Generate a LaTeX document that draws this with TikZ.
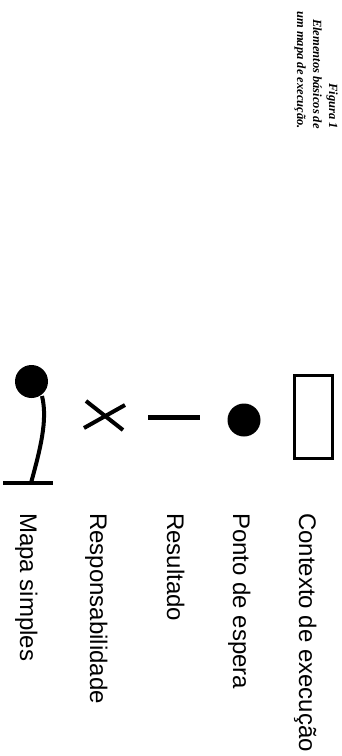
\documentclass[tikz,border=0pt]{standalone}
\usepackage{fontspec}
\setmainfont{Liberation Sans}
\newfontfamily\capfont{Liberation Serif}
\begin{document}
\begin{tikzpicture}[x=1pt,y=-1pt,
  lbl/.style={rotate=-90, anchor=base west, inner sep=0pt, font=\fontsize{24}{28}\selectfont},
  capt/.style={rotate=-90, anchor=north east, align=right, inner sep=0pt,
    font=\capfont\bfseries\itshape\fontsize{12.5}{16}\selectfont},
  stroke/.style={line width=4pt, draw=black}]
\useasboundingbox[fill=white] (0,0) rectangle (342,756);
% caption
\node[capt] (cap) at (338,129) {Figura 1\\Elementos básicos de\\um mapa de execução.};
% symbols
\fill[black] (31.5,381.5) circle[radius=16.5];
\coordinate (mtop) at (42,396);
\coordinate (mbot) at (31,483);
\draw[stroke] (mtop) .. controls (48,420) and (40,450) .. (mbot);
\coordinate (bl) at (3,483);
\coordinate (br) at (53,483);
\draw[stroke, line width=4.5pt] (bl) -- (br);
% X
\coordinate (x1) at (86,401);
\coordinate (x2) at (123,430);
\coordinate (x3) at (84,428);
\coordinate (x4) at (125,405);
\draw[stroke] (x1) -- (x2);
\draw[stroke] (x3) -- (x4);
% dash
\coordinate (d1) at (148,417);
\coordinate (d2) at (200,417);
\draw[stroke, line width=5pt] (d1) -- (d2);
% dot
\node[circle, fill=black, minimum size=33pt, inner sep=0pt] (dot) at (244,420) {};
% rectangle
\node[draw=black, line width=3pt, minimum width=38pt, minimum height=83pt, inner sep=0pt] (ctxbox) at (313.5,417) {};
% labels
\node[lbl] (lmap) at (20,513) {Mapa simples};
\node[lbl] (lresp) at (90,513) {Responsabilidade};
\node[lbl] (lres) at (167,513) {Resultado};
\node[lbl] (lpto) at (233,513) {Ponto de espera};
\node[lbl] (lctx) at (299,513) {Contexto de execução};
\end{tikzpicture}
\end{document}
